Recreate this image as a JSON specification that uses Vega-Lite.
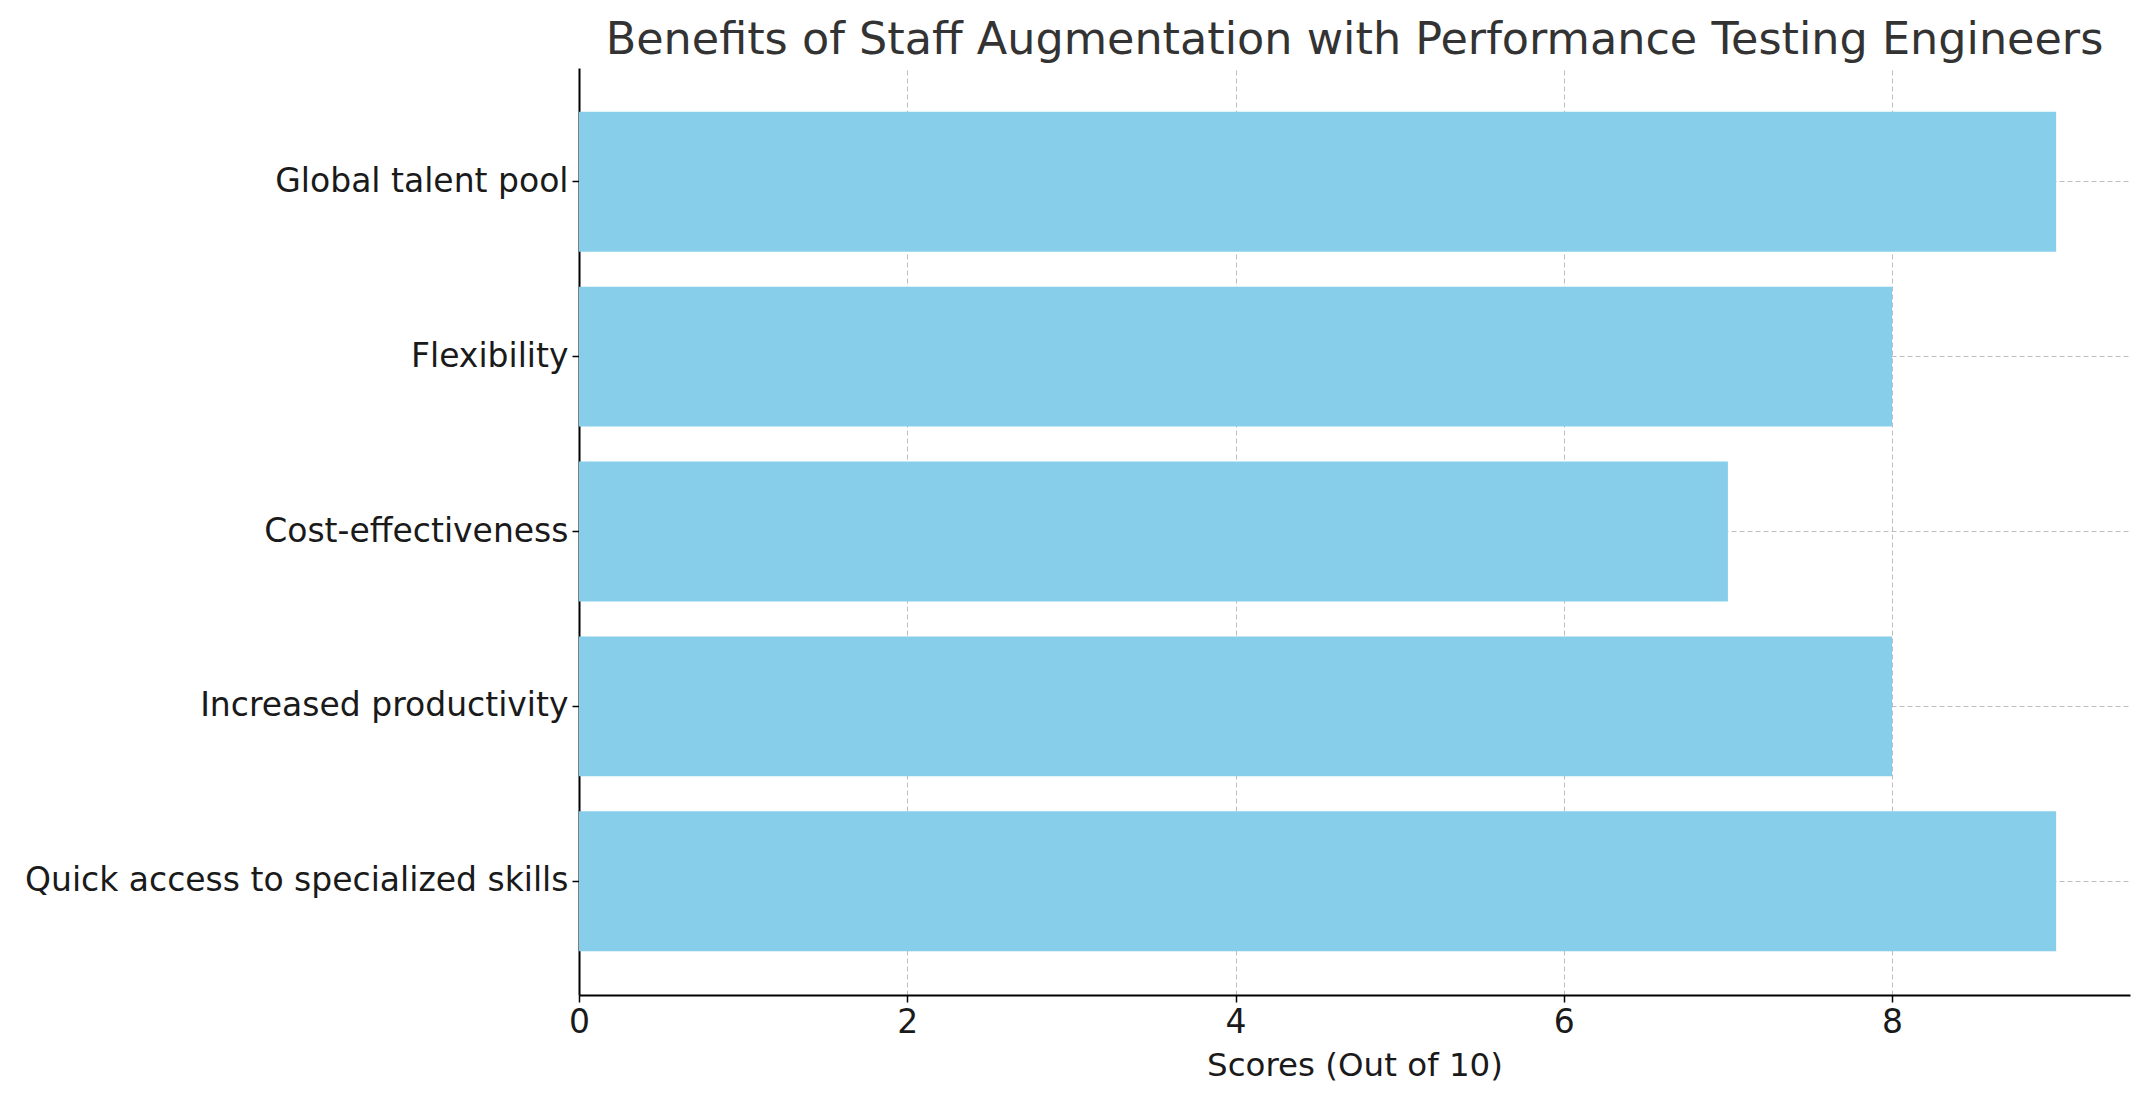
{
  "$schema": "https://vega.github.io/schema/vega-lite/v6.json",
  "autosize": {"type": "none"},
  "padding": {"left": 579, "top": 68, "right": 18, "bottom": 106},
  "width": 1551,
  "height": 927,
  "background": "white",
  "title": {
    "text": "Benefits of Staff Augmentation with Performance Testing Engineers",
    "font": "DejaVu Sans",
    "fontSize": 44.5,
    "fontWeight": "normal",
    "color": "#333333",
    "anchor": "middle",
    "offset": 5
  },
  "config": {
    "view": {"stroke": null},
    "axis": {
      "labelFont": "DejaVu Sans",
      "titleFont": "DejaVu Sans",
      "labelFontSize": 33,
      "titleFontSize": 32.5,
      "titleFontWeight": "normal",
      "labelColor": "#1a1a1a",
      "titleColor": "#1a1a1a",
      "domainColor": "black",
      "domainWidth": 2,
      "tickColor": "black",
      "tickWidth": 1.5,
      "tickSize": 7,
      "labelPadding": 4,
      "labelFlush": false,
      "gridColor": "#bdbdbd",
      "gridDash": [5, 3],
      "gridWidth": 1
    }
  },
  "data": {
    "values": [
      {"benefit": "Quick access to specialized skills", "score": 9},
      {"benefit": "Increased productivity", "score": 8},
      {"benefit": "Cost-effectiveness", "score": 7},
      {"benefit": "Flexibility", "score": 8},
      {"benefit": "Global talent pool", "score": 9}
    ]
  },
  "mark": {"type": "bar", "color": "#87CEEB"},
  "encoding": {
    "x": {
      "field": "score",
      "type": "quantitative",
      "scale": {"domain": [0, 9.45], "nice": false},
      "axis": {"values": [0, 2, 4, 6, 8], "title": "Scores (Out of 10)", "grid": true, "titlePadding": 10}
    },
    "y": {
      "field": "benefit",
      "type": "nominal",
      "sort": ["Global talent pool", "Flexibility", "Cost-effectiveness", "Increased productivity", "Quick access to specialized skills"],
      "scale": {"paddingInner": 0.2, "paddingOuter": 0.25},
      "axis": {"title": null, "grid": true, "bandPosition": 0.5, "labelLimit": 700}
    }
  }
}
